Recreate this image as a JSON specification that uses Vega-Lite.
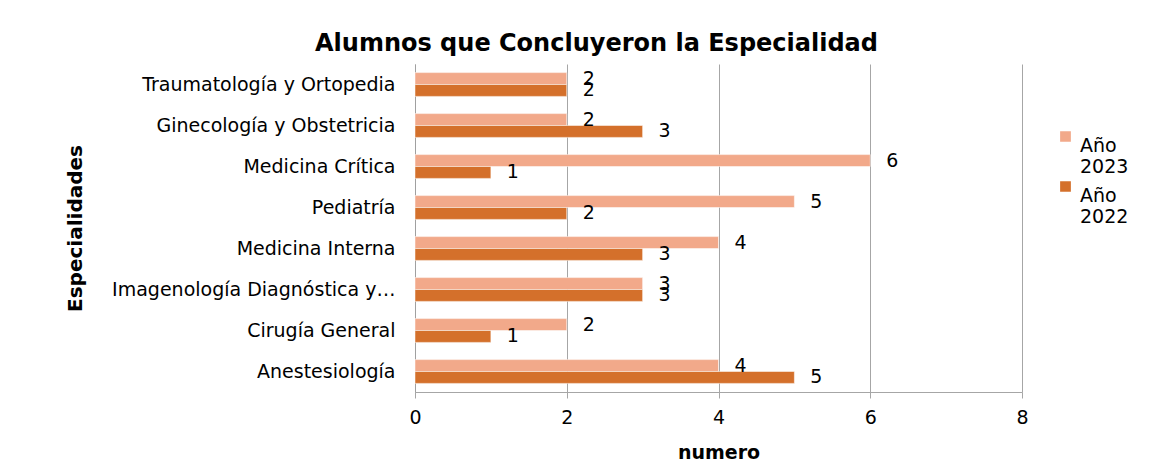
{
  "$schema": "https://vega.github.io/schema/vega-lite/v6.json",
  "autosize": "none",
  "width": 607,
  "height": 328,
  "padding": {"left": 415, "top": 64, "right": 151, "bottom": 73},
  "background": "white",
  "title": {
    "text": "Alumnos que Concluyeron la Especialidad",
    "font": "DejaVu Sans",
    "fontSize": 24,
    "fontWeight": "bold",
    "color": "#000000",
    "anchor": "middle",
    "dx": -122,
    "offset": 8
  },
  "data": {
    "values": [
      {"especialidad": "Traumatología y Ortopedia", "serie": "Año 2023", "numero": 2},
      {"especialidad": "Traumatología y Ortopedia", "serie": "Año 2022", "numero": 2},
      {"especialidad": "Ginecología y Obstetricia", "serie": "Año 2023", "numero": 2},
      {"especialidad": "Ginecología y Obstetricia", "serie": "Año 2022", "numero": 3},
      {"especialidad": "Medicina Crítica", "serie": "Año 2023", "numero": 6},
      {"especialidad": "Medicina Crítica", "serie": "Año 2022", "numero": 1},
      {"especialidad": "Pediatría", "serie": "Año 2023", "numero": 5},
      {"especialidad": "Pediatría", "serie": "Año 2022", "numero": 2},
      {"especialidad": "Medicina Interna", "serie": "Año 2023", "numero": 4},
      {"especialidad": "Medicina Interna", "serie": "Año 2022", "numero": 3},
      {"especialidad": "Imagenología Diagnóstica y…", "serie": "Año 2023", "numero": 3},
      {"especialidad": "Imagenología Diagnóstica y…", "serie": "Año 2022", "numero": 3},
      {"especialidad": "Cirugía General", "serie": "Año 2023", "numero": 2},
      {"especialidad": "Cirugía General", "serie": "Año 2022", "numero": 1},
      {"especialidad": "Anestesiología", "serie": "Año 2023", "numero": 4},
      {"especialidad": "Anestesiología", "serie": "Año 2022", "numero": 5}
    ]
  },
  "encoding": {
    "y": {
      "field": "especialidad",
      "type": "nominal",
      "sort": null,
      "scale": {"paddingInner": 0.42, "paddingOuter": 0.21},
      "axis": {
        "title": "Especialidades",
        "titleFont": "DejaVu Sans",
        "titleFontSize": 20,
        "titleFontWeight": "bold",
        "titleColor": "#000000",
        "titleX": -330,
        "labelFont": "DejaVu Sans",
        "labelFontSize": 19,
        "labelColor": "#000000",
        "labelPadding": 20,
        "labelLimit": 400,
        "ticks": false,
        "domain": true,
        "domainColor": "#A0A0A0",
        "grid": false
      }
    },
    "yOffset": {
      "field": "serie",
      "type": "nominal",
      "sort": ["Año 2023", "Año 2022"],
      "scale": {"paddingInner": 0, "paddingOuter": 0}
    },
    "x": {
      "field": "numero",
      "type": "quantitative",
      "scale": {"domain": [0, 8]},
      "axis": {
        "title": "numero",
        "titleFont": "DejaVu Sans",
        "titleFontSize": 19,
        "titleFontWeight": "bold",
        "titleColor": "#000000",
        "titlePadding": 16,
        "labelFont": "DejaVu Sans",
        "labelFontSize": 19,
        "labelColor": "#000000",
        "labelPadding": 10,
        "labelFlush": false,
        "values": [0, 2, 4, 6, 8],
        "grid": true,
        "gridColor": "#A6A6A6",
        "domainColor": "#A6A6A6",
        "tickColor": "#A6A6A6",
        "tickSize": 6
      }
    }
  },
  "layer": [
    {
      "mark": {"type": "bar", "stroke": "white", "strokeWidth": 0.5},
      "encoding": {
        "color": {
          "field": "serie",
          "type": "nominal",
          "scale": {"domain": ["Año 2023", "Año 2022"], "range": ["#F2A98A", "#D4702B"]},
          "legend": {
            "title": null,
            "orient": "none",
            "legendX": 641,
            "legendY": 63,
            "symbolType": "square",
            "symbolSize": 150,
            "labelFont": "DejaVu Sans",
            "labelFontSize": 19,
            "labelColor": "#000000",
            "labelExpr": "split(datum.label, ' ')",
            "labelBaseline": "top",
            "labelOffset": 5,
            "rowPadding": 0,
            "encode": {"labels": {"update": {"lineHeight": {"value": 26}, "dy": {"value": -6}}}}
          }
        }
      }
    },
    {
      "mark": {"type": "text", "dx": 22, "align": "center", "baseline": "middle", "font": "DejaVu Sans", "fontSize": 19, "color": "#000000"},
      "encoding": {"text": {"field": "numero", "type": "quantitative"}}
    }
  ],
  "config": {"view": {"stroke": null}}
}
